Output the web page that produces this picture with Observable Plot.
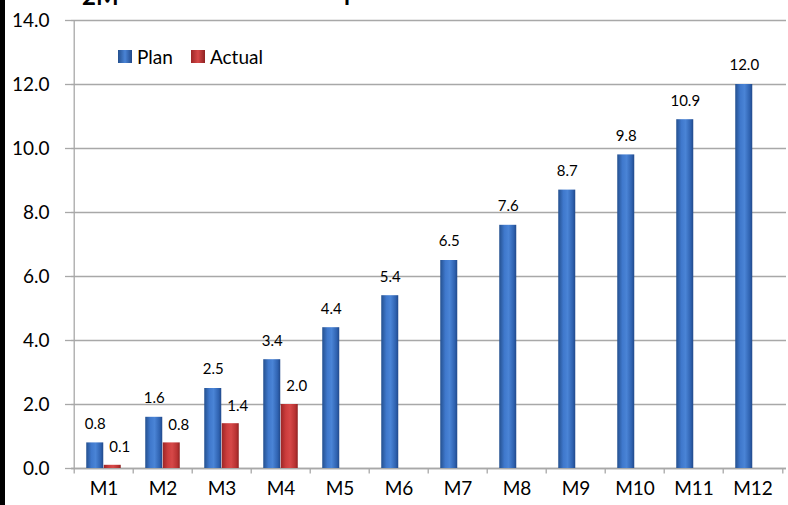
<!DOCTYPE html>
<html>
<head>
<meta charset="utf-8">
<script src="https://cdn.jsdelivr.net/npm/d3@7"></script>
<script src="https://cdn.jsdelivr.net/npm/@observablehq/plot@0.6"></script>
<style>
  html, body { margin: 0; padding: 0; background: #fff; }
  #wrap { position: relative; width: 788px; height: 505px; overflow: hidden; font-family: Lato, "Open Sans", sans-serif; }
  #leftbar { position: absolute; left: 0; top: 0; width: 5px; height: 505px; background: #000; z-index: 3; }
  #title { position: absolute; left: 0; top: 0; width: 788px; height: 7px; overflow: hidden; z-index: 2; }
  #title span { position: absolute; top: -18px; font-weight: bold; font-size: 24px; line-height: 28px; color: #000; }
  #legend { position: absolute; left: 118px; top: 45px; display: flex; align-items: center; font-size: 19px; color: #000; z-index: 2; }
  #legend .sw { display: inline-block; width: 14px; height: 13px; margin-right: 5px; }
  #legend .item { display: flex; align-items: center; margin-right: 18px; }
</style>
</head>
<body>
<div id="wrap">
  <div id="leftbar"></div>
  <div id="title"><span style="left:82px">2M</span><span style="left:344px">l</span></div>
  <div id="legend"></div>
  <div id="chart"></div>
</div>
<script>
const months = ["M1","M2","M3","M4","M5","M6","M7","M8","M9","M10","M11","M12"];
const planValues = [0.8, 1.6, 2.5, 3.4, 4.4, 5.4, 6.5, 7.6, 8.7, 9.8, 10.9, 12.0];
const actualMonths = ["M1","M2","M3","M4"];
const actualValues = [0.1, 0.8, 1.4, 2.0];
const yTicks = [0, 2, 4, 6, 8, 10, 12, 14];
const seriesNames = ["Plan", "Actual"];

const plan = months.map((m, i) => ({month: m, value: planValues[i]}));
const actual = actualMonths.map((m, i) => ({month: m, value: actualValues[i]}));

const W = 788, H = 505, ML = 71, MR = 2, MT = 20, MB = 37;
const step = (W - ML - MR) / months.length;
const bw = 17.5;
const pad = 1 - bw / step;
const fmt = d3.format(".1f");
const grid = "#a8a8a8";

const chart = Plot.plot({
  width: W, height: H,
  marginLeft: ML, marginRight: MR, marginTop: MT, marginBottom: MB,
  style: {fontFamily: "Lato, 'Open Sans', sans-serif", background: "#fff", overflow: "visible"},
  x: {domain: months, paddingInner: pad, paddingOuter: pad / 2, align: 0.5},
  y: {domain: [0, 14]},
  marks: [
    Plot.gridY(yTicks, {stroke: grid, strokeOpacity: 1, strokeWidth: 1.3}),
    Plot.axisY(yTicks, {tickFormat: fmt, tickSize: 6, tickPadding: 16, stroke: grid, strokeWidth: 1.3, fontSize: 19, fill: "#000", label: null}),
    Plot.axisX({tickSize: 0, tickPadding: 13, fontSize: 19, fill: "#000", label: null}),
    Plot.ruleX(months, {x: d => d, dx: -step / 2, y1: 0, y2: -0.17, stroke: grid, strokeWidth: 1.3}),
    Plot.ruleX([months[months.length - 1]], {x: d => d, dx: step / 2, y1: 0, y2: -0.17, stroke: grid, strokeWidth: 1.3}),
    Plot.ruleX([months[0]], {x: d => d, dx: -step / 2, y1: 0, y2: 14, stroke: grid, strokeWidth: 1.3}),
    Plot.ruleY([0], {stroke: grid, strokeWidth: 1.3}),
    Plot.barY(plan, {x: "month", y: "value", dx: -bw / 2, fill: "#3a70c2"}),
    Plot.barY(actual, {x: "month", y: "value", dx: bw / 2, fill: "#c43a3a"}),
    Plot.text(plan, {x: "month", y: "value", dx: -bw / 2, dy: -19, text: d => fmt(d.value), fontSize: 15, fill: "#000"}),
    Plot.text(actual, {x: "month", y: "value", dx: bw / 2 + 7, dy: -18, text: d => fmt(d.value), fontSize: 15, fill: "#000"})
  ]
});

// gradients
const svg = d3.select(chart);
const defs = svg.insert("defs", ":first-child");
function grad(id, stops) {
  const g = defs.append("linearGradient").attr("id", id).attr("x1", "0%").attr("x2", "100%").attr("y1", "0%").attr("y2", "0%");
  stops.forEach(([o, c]) => g.append("stop").attr("offset", o).attr("stop-color", c));
}
function vgrad(id, stops) {
  const g = defs.append("linearGradient").attr("id", id).attr("x1", "0%").attr("x2", "0%").attr("y1", "0%").attr("y2", "100%");
  stops.forEach(([o, c, op]) => g.append("stop").attr("offset", o).attr("stop-color", c).attr("stop-opacity", op));
}
grad("gBlue", [["0%", "#24508f"], ["30%", "#3f78cc"], ["55%", "#4a84d6"], ["85%", "#2f62b0"], ["100%", "#21498a"]]);
grad("gRed", [["0%", "#9c2626"], ["30%", "#cc3d3d"], ["55%", "#d64848"], ["85%", "#b83232"], ["100%", "#8e2222"]]);
const barGroups = svg.selectAll('g[aria-label="bar"]').nodes();
const fills = ["url(#gBlue)", "url(#gRed)"];
barGroups.forEach((g, i) => {
  d3.select(g).attr("fill", fills[i]);
  d3.select(g).selectAll("rect").attr("fill", fills[i]);
});

document.getElementById("chart").appendChild(chart);

// legend
const legend = document.getElementById("legend");
const swatchFills = ["linear-gradient(90deg,#24508f,#4a84d6,#21498a)", "linear-gradient(90deg,#9c2626,#d64848,#8e2222)"];
seriesNames.forEach((name, i) => {
  const item = document.createElement("div");
  item.className = "item";
  const sw = document.createElement("span");
  sw.className = "sw";
  sw.style.background = swatchFills[i];
  item.appendChild(sw);
  item.appendChild(document.createTextNode(name));
  legend.appendChild(item);
});
</script>
</body>
</html>
